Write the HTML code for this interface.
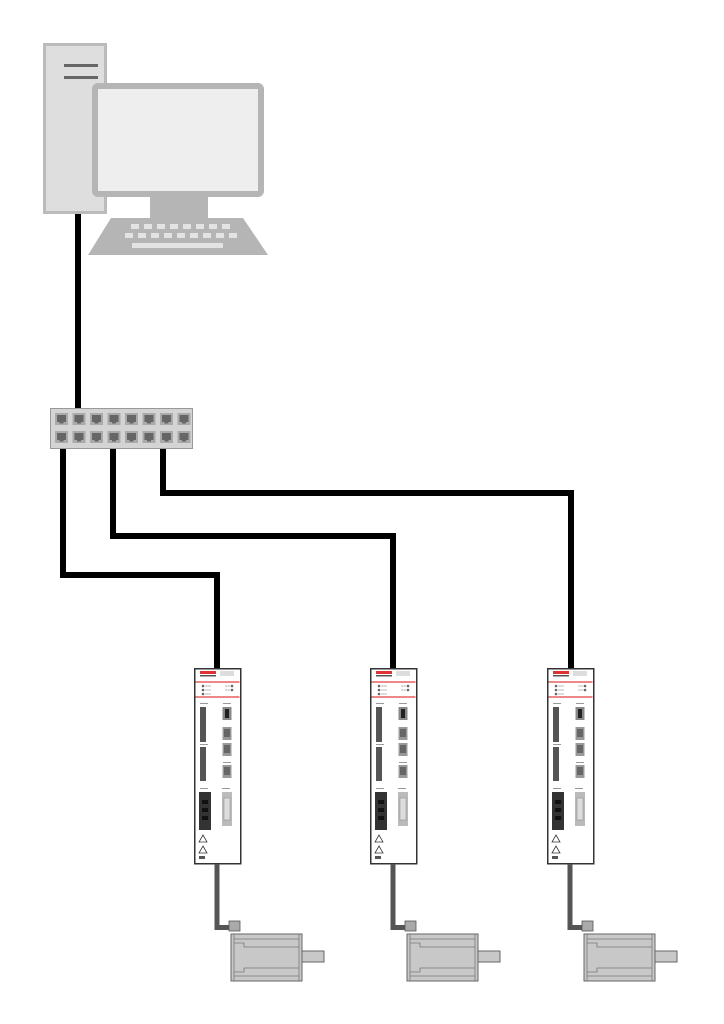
<!DOCTYPE html>
<html><head><meta charset="utf-8"><style>html,body{margin:0;padding:0;background:#fff}svg{display:block}</style></head>
<body>
<svg width="724" height="1024" viewBox="0 0 724 1024" xmlns="http://www.w3.org/2000/svg" font-family="Liberation Sans, sans-serif">
<defs>
<g id="drive">
  <rect x="0.75" y="0.75" width="46" height="195" fill="#fff" stroke="#333" stroke-width="1.5"/>
  <rect x="6" y="3" width="16" height="3" fill="#d33"/>
  <rect x="6" y="7" width="16" height="1.5" fill="#555"/>
  <rect x="26" y="3" width="14" height="5" fill="#ddd"/>
  <line x1="1.5" y1="14" x2="45.5" y2="14" stroke="#e04040" stroke-width="1.2"/>
  <line x1="1.5" y1="29" x2="45.5" y2="29" stroke="#e04040" stroke-width="1.2"/>
  <circle cx="9" cy="18" r="1.3" fill="#666"/><circle cx="9" cy="22" r="1.3" fill="#666"/><circle cx="9" cy="26" r="1.3" fill="#666"/>
  <rect x="11" y="17.5" width="6" height="1" fill="#bbb"/><rect x="11" y="21.5" width="6" height="1" fill="#bbb"/><rect x="11" y="25.5" width="6" height="1" fill="#bbb"/>
  <circle cx="38" cy="18" r="1.3" fill="#666"/><circle cx="38" cy="22" r="1.3" fill="#666"/>
  <rect x="31" y="17.5" width="5" height="1" fill="#bbb"/><rect x="31" y="21.5" width="5" height="1" fill="#bbb"/>
  <rect x="6" y="35" width="8" height="1" fill="#999"/><rect x="29" y="35" width="8" height="1" fill="#999"/>
  <rect x="6" y="39" width="6" height="35" fill="#555"/>
  <rect x="6" y="79" width="6" height="34" fill="#555"/>
  <rect x="6" y="76" width="8" height="1" fill="#999"/>
  <rect x="28.5" y="39" width="9" height="13" fill="#888"/><rect x="31" y="41" width="4" height="9" fill="#222"/>
  <rect x="28.5" y="59" width="9" height="13" fill="#999"/><rect x="30" y="61" width="6" height="8" fill="#666"/>
  <rect x="28.5" y="75" width="9" height="13" fill="#999"/><rect x="30" y="77" width="6" height="8" fill="#666"/>
  <rect x="28.5" y="97" width="9" height="13" fill="#999"/><rect x="30" y="99" width="6" height="8" fill="#666"/>
  <rect x="29" y="94" width="8" height="1" fill="#999"/>
  <rect x="6" y="120" width="8" height="1" fill="#999"/><rect x="28" y="120" width="8" height="1" fill="#999"/>
  <rect x="5" y="124" width="12" height="38" fill="#333"/>
  <rect x="8" y="132" width="6" height="4" fill="#111"/><rect x="8" y="140" width="6" height="4" fill="#111"/><rect x="8" y="148" width="6" height="4" fill="#111"/>
  <rect x="28" y="124" width="10" height="34" fill="#bbb"/><rect x="30" y="130" width="6" height="22" fill="#ddd" stroke="#888" stroke-width="0.5"/>
  <path d="M9 167 L13 174 L5 174 Z" fill="none" stroke="#333" stroke-width="0.8"/>
  <path d="M9 178 L13 185 L5 185 Z" fill="none" stroke="#333" stroke-width="0.8"/>
  <rect x="5" y="188" width="6" height="3" fill="#555"/>
</g>
<g id="motor">
  <rect x="-2.5" y="0" width="5" height="66" fill="#555"/>
  <rect x="-2.5" y="61" width="17" height="5" fill="#555"/>
  <rect x="12" y="57" width="11" height="10" fill="#aaa" stroke="#555" stroke-width="0.8"/>
  <rect x="14" y="70" width="71" height="47" fill="#c8c8c8" stroke="#666" stroke-width="1"/>
  <line x1="17" y1="70" x2="17" y2="117" stroke="#777" stroke-width="0.8"/>
  <polyline points="17,75 82,75" fill="none" stroke="#777" stroke-width="0.8"/>
  <polyline points="17,79 27,79 27,83 82,83" fill="none" stroke="#777" stroke-width="0.8"/>
  <polyline points="17,108 27,108 27,104 82,104" fill="none" stroke="#777" stroke-width="0.8"/>
  <polyline points="17,112 82,112" fill="none" stroke="#777" stroke-width="0.8"/>
  <line x1="82" y1="70" x2="82" y2="117" stroke="#777" stroke-width="0.8"/>
  <rect x="85" y="87" width="22" height="11" fill="#c8c8c8" stroke="#666" stroke-width="1"/>
</g>
<g id="port">
  <rect x="0" y="0" width="13" height="12" fill="#aaa"/>
  <rect x="2" y="2" width="9" height="7" fill="#666"/>
  <rect x="4.5" y="9" width="4" height="1.5" fill="#666"/>
</g>
</defs>

<g fill="none" stroke="#000" stroke-width="6">
  <line x1="78" y1="210" x2="78" y2="410"/>
  <polyline points="63,446 63,575 217,575 217,669"/>
  <polyline points="113,446 113,536 393,536 393,669"/>
  <polyline points="163,446 163,493 571,493 571,669"/>
</g>

<rect x="44.5" y="44.5" width="61" height="168" fill="#dedede" stroke="#bbb" stroke-width="3"/>
<rect x="64" y="64" width="34" height="3" fill="#666"/>
<rect x="64" y="76" width="34" height="3" fill="#666"/>
<rect x="95" y="86" width="166" height="108" rx="3" fill="#eee" stroke="#b5b5b5" stroke-width="6"/>
<rect x="150" y="197" width="58" height="22" fill="#b5b5b5"/>
<path d="M111 218 L243 218 L268 255 L88 255 Z" fill="#b5b5b5"/>
<g fill="#e3e3e3">
  <rect x="131" y="224" width="8" height="5"/><rect x="144" y="224" width="8" height="5"/><rect x="157" y="224" width="8" height="5"/><rect x="170" y="224" width="8" height="5"/><rect x="183" y="224" width="8" height="5"/><rect x="196" y="224" width="8" height="5"/><rect x="209" y="224" width="8" height="5"/><rect x="222" y="224" width="8" height="5"/>
  <rect x="125" y="233" width="8" height="5"/><rect x="138" y="233" width="8" height="5"/><rect x="151" y="233" width="8" height="5"/><rect x="164" y="233" width="8" height="5"/><rect x="177" y="233" width="8" height="5"/><rect x="190" y="233" width="8" height="5"/><rect x="203" y="233" width="8" height="5"/><rect x="216" y="233" width="8" height="5"/><rect x="229" y="233" width="8" height="5"/>
  <rect x="132" y="243" width="91" height="5"/>
</g>

<rect x="50.5" y="408.5" width="142" height="40" fill="#d4d4d4" stroke="#999" stroke-width="1"/>
<use href="#port" x="55" y="413"/><use href="#port" x="72.5" y="413"/><use href="#port" x="90" y="413"/><use href="#port" x="107.5" y="413"/><use href="#port" x="125" y="413"/><use href="#port" x="142.5" y="413"/><use href="#port" x="160" y="413"/><use href="#port" x="177.5" y="413"/>
<use href="#port" x="55" y="431"/><use href="#port" x="72.5" y="431"/><use href="#port" x="90" y="431"/><use href="#port" x="107.5" y="431"/><use href="#port" x="125" y="431"/><use href="#port" x="142.5" y="431"/><use href="#port" x="160" y="431"/><use href="#port" x="177.5" y="431"/>

<use href="#drive" x="194" y="668"/>
<use href="#drive" x="370" y="668"/>
<use href="#drive" x="547" y="668"/>

<use href="#motor" x="217" y="864"/>
<use href="#motor" x="393" y="864"/>
<use href="#motor" x="570" y="864"/>
</svg>
</body></html>
